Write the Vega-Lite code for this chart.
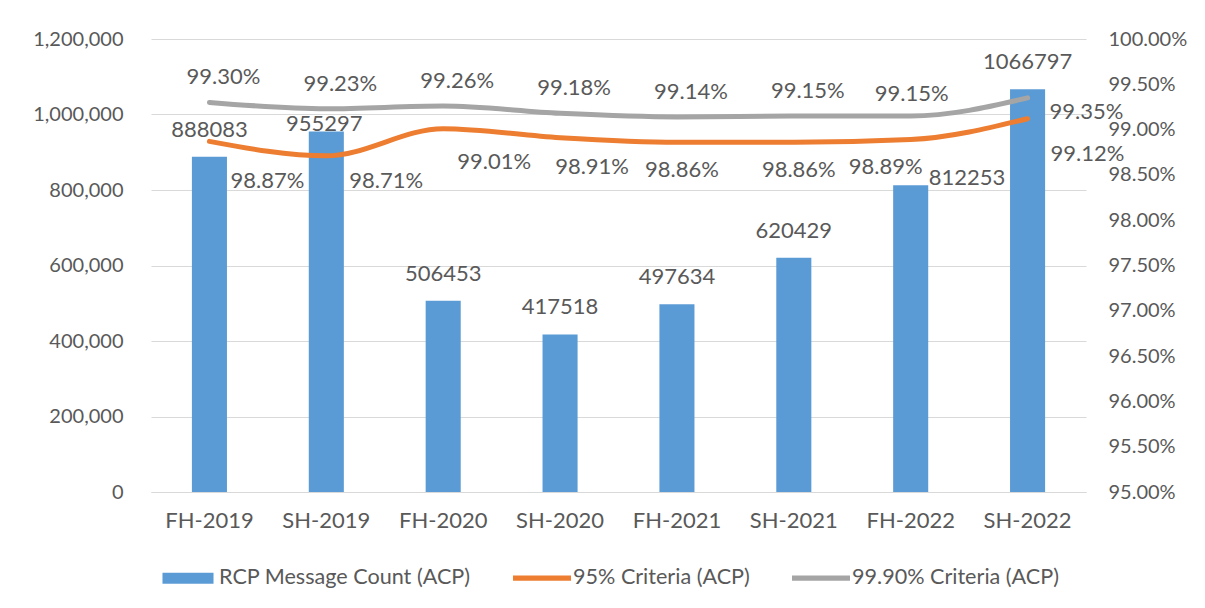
{
  "$schema": "https://vega.github.io/schema/vega-lite/v6.json",
  "width": 935,
  "height": 453,
  "autosize": {"type": "none"},
  "padding": {"left": 151, "top": 39, "right": 119, "bottom": 116},
  "background": "white",
  "config": {
    "font": "Lato",
    "view": {"stroke": null},
    "axis": {"labelFont": "Lato", "labelFontSize": 20, "labelColor": "#595959", "domain": false, "ticks": false, "grid": false, "title": null},
    "legend": {"title": null, "labelLimit": 0},
    "text": {"font": "Lato", "fontSize": 22, "color": "#595959"}
  },
  "datasets": {
    "counts": [
      {"period": "FH-2019", "count": 888083},
      {"period": "SH-2019", "count": 955297},
      {"period": "FH-2020", "count": 506453},
      {"period": "SH-2020", "count": 417518},
      {"period": "FH-2021", "count": 497634},
      {"period": "SH-2021", "count": 620429},
      {"period": "FH-2022", "count": 812253},
      {"period": "SH-2022", "count": 1066797}
    ],
    "criteria": [
      {"period": "FH-2019", "series": "95% Criteria (ACP)", "value": 0.9887},
      {"period": "SH-2019", "series": "95% Criteria (ACP)", "value": 0.9871},
      {"period": "FH-2020", "series": "95% Criteria (ACP)", "value": 0.9901},
      {"period": "SH-2020", "series": "95% Criteria (ACP)", "value": 0.9891},
      {"period": "FH-2021", "series": "95% Criteria (ACP)", "value": 0.9886},
      {"period": "SH-2021", "series": "95% Criteria (ACP)", "value": 0.9886},
      {"period": "FH-2022", "series": "95% Criteria (ACP)", "value": 0.9889},
      {"period": "SH-2022", "series": "95% Criteria (ACP)", "value": 0.9912},
      {"period": "FH-2019", "series": "99.90% Criteria (ACP)", "value": 0.9930},
      {"period": "SH-2019", "series": "99.90% Criteria (ACP)", "value": 0.9923},
      {"period": "FH-2020", "series": "99.90% Criteria (ACP)", "value": 0.9926},
      {"period": "SH-2020", "series": "99.90% Criteria (ACP)", "value": 0.9918},
      {"period": "FH-2021", "series": "99.90% Criteria (ACP)", "value": 0.9914},
      {"period": "SH-2021", "series": "99.90% Criteria (ACP)", "value": 0.9915},
      {"period": "FH-2022", "series": "99.90% Criteria (ACP)", "value": 0.9915},
      {"period": "SH-2022", "series": "99.90% Criteria (ACP)", "value": 0.9935}
    ]
  },
  "encoding": {
    "x": {
      "field": "period", "type": "nominal", "sort": null,
      "scale": {"paddingInner": 0.7, "paddingOuter": 0.35},
      "axis": {"labelAngle": 0, "domain": true, "domainColor": "#D9D9D9", "domainWidth": 1, "labelPadding": 18, "labelFontSize": 22}
    }
  },
  "layer": [
    {
      "data": {"name": "counts"},
      "encoding": {
        "y": {
          "field": "count", "type": "quantitative",
          "scale": {"domain": [0, 1200000], "nice": false},
          "axis": {"values": [0, 200000, 400000, 600000, 800000, 1000000, 1200000], "format": ",.0f", "grid": true, "gridColor": "#D9D9D9", "gridWidth": 1, "labelPadding": 28}
        }
      },
      "layer": [
        {
          "mark": {"type": "bar"},
          "encoding": {
            "color": {
              "datum": "RCP Message Count (ACP)",
              "type": "nominal",
              "scale": {"domain": ["RCP Message Count (ACP)", "95% Criteria (ACP)", "99.90% Criteria (ACP)"], "range": ["#5B9BD5", "#ED7D31", "#A5A5A5"]},
              "legend": {
                "orient": "none", "legendX": 8, "legendY": 510, "direction": "horizontal", "title": null,
                "symbolType": "M-1,-0.09H1V0.09H-1Z", "symbolSize": 3364, "symbolStrokeWidth": 0,
                "labelFont": "Lato", "labelFontSize": 21.6, "labelColor": "#595959", "labelOffset": 2, "columnPadding": 42, "labelLimit": 0,
                "encode": {
                  "symbols": {
                    "update": {
                      "shape": {"signal": "datum.value === 'RCP Message Count (ACP)' ? 'M-0.88,-0.19H0.88V0.19H-0.88Z' : 'M-1,-0.09H1V0.09H-1Z'"},
                      "fill": {"signal": "datum.value === 'RCP Message Count (ACP)' ? '#5B9BD5' : (datum.value === '95% Criteria (ACP)' ? '#ED7D31' : '#A5A5A5')"},
                      "stroke": {"value": "transparent"},
                      "strokeWidth": {"value": 0}
                    }
                  }
                }
              }
            }
          }
        },
        {
          "transform": [{"filter": {"field": "period", "oneOf": ["FH-2019", "FH-2020", "SH-2020", "FH-2021", "SH-2021", "SH-2022"]}}],
          "mark": {"type": "text", "baseline": "alphabetic", "dy": -20},
          "encoding": {"text": {"field": "count", "type": "quantitative", "format": "d"}}
        },
        {
          "transform": [{"filter": {"field": "period", "equal": "SH-2019"}}],
          "mark": {"type": "text", "baseline": "alphabetic", "dy": 0, "dx": -2},
          "encoding": {"text": {"field": "count", "type": "quantitative", "format": "d"}}
        },
        {
          "transform": [{"filter": {"field": "period", "equal": "FH-2022"}}],
          "mark": {"type": "text", "baseline": "alphabetic", "align": "left", "dy": 0, "dx": 18},
          "encoding": {"text": {"field": "count", "type": "quantitative", "format": "d"}}
        }
      ]
    },
    {
      "data": {"name": "criteria"},
      "encoding": {
        "y": {
          "field": "value", "type": "quantitative",
          "scale": {"domain": [0.95, 1.0], "nice": false},
          "axis": {"orient": "right", "format": ".2%", "values": [0.95, 0.955, 0.96, 0.965, 0.97, 0.975, 0.98, 0.985, 0.99, 0.995, 1.0], "labelPadding": 22}
        }
      },
      "layer": [
        {
          "mark": {"type": "line", "strokeWidth": 5, "interpolate": "monotone", "strokeCap": "round"},
          "encoding": {"color": {"field": "series", "type": "nominal", "legend": {"title": null, "labelLimit": 0}}}
        },
        {
          "transform": [{"filter": {"and": [{"field": "series", "equal": "99.90% Criteria (ACP)"}, {"field": "period", "oneOf": ["FH-2019", "SH-2019", "FH-2020", "SH-2020", "FH-2021", "SH-2021"]}]}}],
          "mark": {"type": "text", "baseline": "middle", "dx": 14, "dy": -25},
          "encoding": {"text": {"field": "value", "type": "quantitative", "format": ".2%"}}
        },
        {
          "transform": [{"filter": {"and": [{"field": "series", "equal": "99.90% Criteria (ACP)"}, {"field": "period", "equal": "FH-2022"}]}}],
          "mark": {"type": "text", "baseline": "middle", "dx": 1, "dy": -22},
          "encoding": {"text": {"field": "value", "type": "quantitative", "format": ".2%"}}
        },
        {
          "transform": [{"filter": {"and": [{"field": "series", "equal": "99.90% Criteria (ACP)"}, {"field": "period", "equal": "SH-2022"}]}}],
          "mark": {"type": "text", "baseline": "middle", "align": "left", "dx": 22, "dy": 14},
          "encoding": {"text": {"field": "value", "type": "quantitative", "format": ".2%"}}
        },
        {
          "transform": [{"filter": {"and": [{"field": "series", "equal": "95% Criteria (ACP)"}, {"field": "period", "equal": "SH-2022"}]}}],
          "mark": {"type": "text", "baseline": "middle", "align": "left", "dx": 23, "dy": 35},
          "encoding": {"text": {"field": "value", "type": "quantitative", "format": ".2%"}}
        },
        {
          "transform": [{"filter": {"and": [{"field": "series", "equal": "95% Criteria (ACP)"}, {"field": "period", "equal": "FH-2019"}]}}],
          "mark": {"type": "text", "baseline": "middle", "align": "left", "dx": 21, "dy": 40},
          "encoding": {"text": {"field": "value", "type": "quantitative", "format": ".2%"}}
        },
        {
          "transform": [{"filter": {"and": [{"field": "series", "equal": "95% Criteria (ACP)"}, {"field": "period", "equal": "SH-2019"}]}}],
          "mark": {"type": "text", "baseline": "middle", "align": "left", "dx": 23, "dy": 25},
          "encoding": {"text": {"field": "value", "type": "quantitative", "format": ".2%"}}
        },
        {
          "transform": [{"filter": {"and": [{"field": "series", "equal": "95% Criteria (ACP)"}, {"field": "period", "equal": "FH-2020"}]}}],
          "mark": {"type": "text", "baseline": "middle", "dx": 51, "dy": 33},
          "encoding": {"text": {"field": "value", "type": "quantitative", "format": ".2%"}}
        },
        {
          "transform": [{"filter": {"and": [{"field": "series", "equal": "95% Criteria (ACP)"}, {"field": "period", "equal": "SH-2020"}]}}],
          "mark": {"type": "text", "baseline": "middle", "dx": 32, "dy": 29},
          "encoding": {"text": {"field": "value", "type": "quantitative", "format": ".2%"}}
        },
        {
          "transform": [{"filter": {"and": [{"field": "series", "equal": "95% Criteria (ACP)"}, {"field": "period", "oneOf": ["FH-2021", "SH-2021"]}]}}],
          "mark": {"type": "text", "baseline": "middle", "dx": 5, "dy": 28},
          "encoding": {"text": {"field": "value", "type": "quantitative", "format": ".2%"}}
        },
        {
          "transform": [{"filter": {"and": [{"field": "series", "equal": "95% Criteria (ACP)"}, {"field": "period", "equal": "FH-2022"}]}}],
          "mark": {"type": "text", "baseline": "middle", "dx": -25, "dy": 27},
          "encoding": {"text": {"field": "value", "type": "quantitative", "format": ".2%"}}
        }
      ]
    }
  ],
  "resolve": {"scale": {"y": "independent"}}
}
